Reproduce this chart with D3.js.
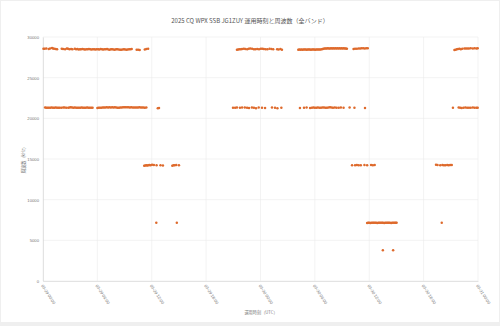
<!DOCTYPE html>
<html>
<head>
<meta charset="utf-8">
<script src="https://cdn.jsdelivr.net/npm/d3@7"></script>
<style>
  html, body { margin: 0; padding: 0; background: #efefef; }
  svg { display: block; font-family: "Noto Sans CJK JP", "Noto Sans", sans-serif; }
</style>
</head>
<body>
<svg id="chart" width="500" height="326"></svg>
<script>
// contest window and labels
const startTime = "2025-03-29T00:00:00Z";
const endTime = "2025-03-31T00:00:00Z";
const titleText = "2025 CQ WPX SSB JG1ZUY 運用時刻と周波数（全バンド）";
const xTitle = "運用時刻（UTC）";
const yTitle = "周波数（kHz）";
const yTicks = [0, 5000, 10000, 15000, 20000, 25000, 30000];

// QSOs: [minutes after start, kHz]
const qso28 = [
  [3,28560],[11,28540],[22,28580],[38,28520],[47,28600],[60,28640],[66,28600],[74,28560],[84,28520],[93,28480],
  [124,28540],[133,28520],[146,28500],[158,28580],[166,28540],[175,28500],[186,28520],[195,28480],[211,28540],[219,28500],
  [228,28520],[236,28470],[245,28500],[252,28480],[261,28520],[270,28500],[278,28460],[287,28500],[296,28480],[304,28520],
  [313,28500],[321,28460],[330,28480],[339,28500],[347,28450],[356,28480],[365,28500],[373,28470],[382,28520],[390,28490],
  [398,28460],[407,28500],[416,28480],[424,28510],[433,28460],[441,28420],[450,28480],[458,28500],[467,28460],[475,28440],
  [484,28480],[492,28500],[501,28460],[510,28420],[518,28440],[527,28470],[536,28490],[544,28450],[553,28430],[561,28460],
  [570,28480],[579,28500],[587,28520],[620,28420],[630,28440],[640,28410],[674,28470],[684,28520],[696,28560],
  [1284,28420],[1292,28460],[1300,28500],[1310,28480],[1318,28520],[1330,28560],[1340,28520],[1352,28500],[1362,28540],[1372,28580],
  [1384,28540],[1396,28500],[1406,28480],[1418,28520],[1430,28500],[1442,28540],[1452,28560],[1462,28520],[1474,28480],[1486,28500],
  [1500,28540],[1512,28520],[1524,28480],[1550,28500],[1560,28470],[1572,28520],[1582,28440],
  [1690,28440],[1697,28450],[1704,28440],[1711,28450],[1718,28440],[1725,28450],[1732,28460],[1739,28450],[1746,28440],[1753,28450],
  [1760,28460],[1767,28450],[1774,28440],[1781,28450],[1788,28460],[1795,28450],[1802,28440],[1809,28450],[1816,28460],[1823,28450],
  [1830,28460],[1837,28450],[1845,28480],[1852,28520],[1858,28560],[1865,28590],[1872,28600],[1879,28600],[1886,28610],[1893,28600],
  [1900,28600],[1907,28610],[1914,28600],[1921,28610],[1928,28600],[1935,28610],[1942,28600],[1949,28610],[1956,28600],[1963,28610],
  [1970,28600],[1977,28610],[1984,28600],[1991,28610],[1998,28600],[2005,28590],[2012,28560],
  [2056,28520],[2066,28560],[2078,28540],[2090,28580],[2100,28600],[2110,28610],[2120,28620],[2130,28600],[2140,28610],[2150,28620],
  [2724,28400],[2732,28440],[2740,28480],[2748,28520],[2758,28560],[2766,28500],[2776,28540],[2790,28580],[2800,28600],[2810,28590],
  [2820,28600],[2832,28610],[2846,28600],[2858,28620],[2870,28600],[2878,28610]
];

const qso21 = [
  [14,21320],[22,21300],[30,21310],[39,21290],[48,21300],[57,21330],[66,21310],[75,21300],[84,21320],[93,21300],
  [102,21290],[111,21310],[122,21300],[134,21320],[143,21340],[154,21310],[167,21300],[176,21330],[184,21350],[193,21320],
  [202,21310],[211,21330],[220,21300],[229,21290],[238,21310],[247,21300],[256,21320],[265,21300],[274,21290],[283,21310],
  [292,21330],[301,21300],[310,21310],[319,21290],[328,21300],[360,21280],[368,21300],[377,21310],[386,21300],[395,21320],
  [404,21330],[413,21340],[422,21350],[431,21340],[440,21350],[449,21340],[458,21350],[467,21340],[476,21350],[485,21330],
  [494,21310],[503,21300],[512,21320],[521,21330],[530,21350],[539,21360],[548,21370],[557,21350],[566,21360],[575,21340],
  [584,21350],[593,21330],[602,21340],[611,21320],[620,21340],[629,21330],[638,21350],[647,21340],[656,21320],[665,21330],
  [674,21310],[684,21320],[760,21240],[768,21260],
  [1258,21310],[1272,21300],[1284,21330],[1304,21290],[1318,21320],[1336,21340],[1351,21300],[1364,21270],[1383,21320],[1396,21300],
  [1410,21240],[1428,21320],[1450,21300],[1470,21280],[1516,21330],[1536,21300],[1552,21250],[1578,21310],
  [1701,21260],[1728,21300],[1745,21320],[1768,21280],[1780,21300],[1790,21320],[1800,21290],[1810,21300],[1820,21330],[1830,21310],
  [1840,21290],[1850,21320],[1860,21340],[1870,21300],[1880,21310],[1890,21330],[1900,21350],[1910,21320],[1920,21300],[1932,21340],
  [1944,21310],[1958,21290],[1972,21330],[1990,21300],[2030,21320],[2062,21300],[2132,21270],
  [2714,21300],[2752,21320],[2762,21300],[2772,21280],[2784,21310],[2796,21330],[2808,21300],[2820,21310],[2832,21290],[2846,21320],
  [2858,21300],[2870,21310],[2878,21300]
];

const qso14 = [
  [670,14180],[677,14200],[684,14220],[690,14200],[697,14230],[704,14260],[712,14240],[722,14280],[734,14250],[752,14240],
  [778,14220],[794,14200],[856,14180],[864,14220],[872,14240],[882,14260],[900,14230],
  [2046,14240],[2066,14230],[2078,14250],[2090,14240],[2104,14230],[2128,14250],[2146,14240],[2172,14260],[2184,14240],[2196,14250],
  [2602,14300],[2612,14250],[2630,14240],[2644,14260],[2654,14240],[2664,14230],[2676,14250],[2686,14240],[2696,14260],[2706,14250]
];

const qso7 = [
  [750,7150],[886,7150],
  [2146,7140],[2153,7150],[2160,7150],[2168,7140],[2175,7150],[2183,7150],[2190,7160],[2198,7150],[2206,7150],[2213,7140],
  [2221,7150],[2228,7150],[2236,7160],[2244,7150],[2251,7150],[2259,7140],[2266,7150],[2274,7150],[2282,7160],[2289,7150],
  [2297,7150],[2305,7140],[2312,7150],[2320,7150],[2328,7160],[2335,7150],[2341,7150],
  [2640,7160]
];

const qso3 = [[2250,3790],[2318,3790]];

const W = 500, H = 326;
const m = {top: 37, right: 22, bottom: 45, left: 43};

const svg = d3.select("#chart");
svg.append("rect").attr("x", 1).attr("y", 1).attr("width", W - 2).attr("height", H - 5).attr("fill", "#fff");

const t0 = new Date(startTime);
const x = d3.scaleUtc().domain([t0, new Date(endTime)]).range([m.left, W - m.right]);
const y = d3.scaleLinear().domain([0, 30000]).range([H - m.bottom, m.top]);
const toDate = min => new Date(t0.getTime() + min * 60000);

const xTicks = x.ticks(d3.utcHour.every(6));

// grid
svg.append("g").selectAll("line").data(yTicks).join("line")
  .attr("x1", m.left).attr("x2", W - m.right)
  .attr("y1", d => y(d)).attr("y2", d => y(d))
  .attr("stroke", "#ebebeb").attr("stroke-width", 0.6);
svg.append("g").selectAll("line").data(xTicks).join("line")
  .attr("x1", d => x(d)).attr("x2", d => x(d))
  .attr("y1", m.top).attr("y2", H - m.bottom)
  .attr("stroke", "#ebebeb").attr("stroke-width", 0.6);

// axes
const fmt = d3.utcFormat("%m-%d %H:%M");
const gx = svg.append("g").attr("transform", `translate(0,${H - m.bottom})`)
  .call(d3.axisBottom(x).tickValues(xTicks).tickSize(0).tickFormat(fmt));
gx.select(".domain").attr("stroke", "#d4d4d4").attr("stroke-width", 0.6);
gx.selectAll("text")
  .attr("font-size", 4.2).attr("fill", "#777")
  .attr("text-anchor", "start")
  .attr("dy", 0)
  .attr("transform", "translate(0,3) rotate(57)");

const gy = svg.append("g").attr("transform", `translate(${m.left},0)`)
  .call(d3.axisLeft(y).tickValues(yTicks).tickSize(0).tickPadding(4).tickFormat(d3.format("d")));
gy.select(".domain").attr("stroke", "#d4d4d4").attr("stroke-width", 0.6);
gy.selectAll("text").attr("font-size", 4.2).attr("fill", "#777");

// titles
svg.append("text").attr("x", W / 2).attr("y", 23).attr("text-anchor", "middle")
  .attr("font-size", 6).attr("fill", "#555").text(titleText);
svg.append("text").attr("x", 261).attr("y", 314).attr("text-anchor", "middle")
  .attr("font-size", 4.2).attr("fill", "#777").text(xTitle);
svg.append("text").attr("transform", `translate(25,${(m.top + H - m.bottom) / 2}) rotate(-90)`)
  .attr("text-anchor", "middle").attr("font-size", 4.2).attr("fill", "#777").text(yTitle);

// points
const allQso = [].concat(qso28, qso21, qso14, qso7, qso3);
svg.append("g").selectAll("circle").data(allQso).join("circle")
  .attr("cx", d => x(toDate(d[0])))
  .attr("cy", d => y(d[1]))
  .attr("r", 1.25)
  .attr("fill", "#de6a2c");
</script>
</body>
</html>
